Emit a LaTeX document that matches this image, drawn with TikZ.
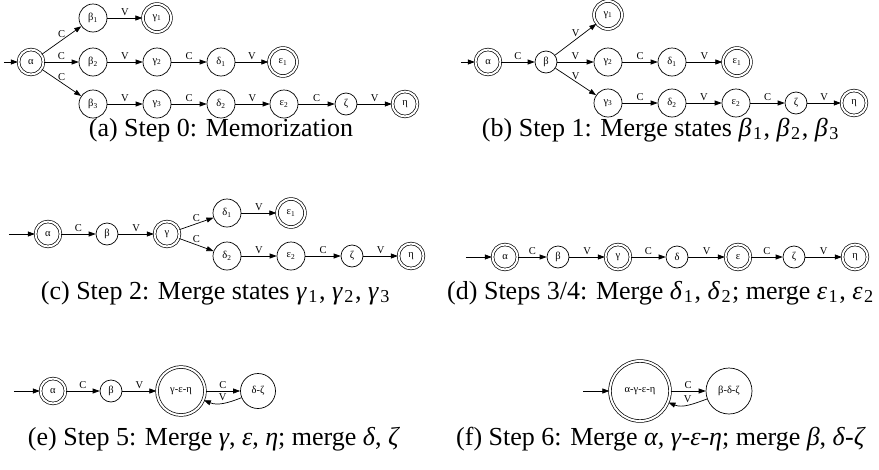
\documentclass[tikz,border=0pt]{standalone}
\usepackage{fontspec}
\setmainfont{Liberation Serif}
\usetikzlibrary{arrows.meta, automata, positioning}
\newcommand*{\statefont}{\fontsize{10.5}{12}\selectfont}
\newcommand*{\capfont}{\fontsize{26}{30}\selectfont}
\newcommand*{\gsub}[2]{\textit{#1}\kern0.06em\textsubscript{#2}\kern0.04em}

\begin{document}
\begin{tikzpicture}[x=1pt,y=-1pt,on grid,line width=0.7pt,>={Triangle[length=7pt,width=5pt]},
    every state/.style={draw,minimum size=22pt,inner sep=0pt,font=\statefont},
    accepting/.append style={minimum size=25pt,double distance=2pt},
    wide/.style={minimum size=28pt},
    initial text=,initial distance=26pt,
    lbl/.style={above=1pt,inner sep=1pt,font=\statefont},
    caption/.style={anchor=base,font=\capfont}]
  \useasboundingbox (0,0) rectangle (879,469);

  % (a) memorization
  \node[state, initial, accepting, initial distance=14pt] (a_al) at (31,62) {α};
  \node[state, wide] (a_be2) [right=62pt of a_al] {β\textsubscript{2}};
  \node[state, wide] (a_be1) [above=44pt of a_be2] {β\textsubscript{1}};
  \node[state, wide] (a_be3) [below=42pt of a_be2] {β\textsubscript{3}};
  \node[state, accepting, wide] (a_ga1) [right=64pt of a_be1] {γ\textsubscript{1}};
  \node[state, wide] (a_ga2) [right=64pt of a_be2] {γ\textsubscript{2}};
  \node[state, wide] (a_de1) [right=64pt of a_ga2] {δ\textsubscript{1}};
  \node[state, accepting, wide] (a_ep1) [right=62pt of a_de1] {ε\textsubscript{1}};
  \node[state, wide] (a_ga3) [right=64pt of a_be3] {γ\textsubscript{3}};
  \node[state, wide] (a_de2) [right=64pt of a_ga3] {δ\textsubscript{2}};
  \node[state, wide] (a_ep2) [right=63pt of a_de2] {ε\textsubscript{2}};
  \node[state] (a_ze) [right=62pt of a_ep2] {ζ};
  \node[state, accepting] (a_et) [right=59pt of a_ze] {η};
  \path[->]
    (a_al) edge node[lbl] {C} (a_be1)
           edge node[lbl] {C} (a_be2)
           edge node[lbl] {C} (a_be3)
    (a_be1) edge node[lbl] {V} (a_ga1)
    (a_be2) edge node[lbl] {V} (a_ga2)
    (a_ga2) edge node[lbl] {C} (a_de1)
    (a_de1) edge node[lbl] {V} (a_ep1)
    (a_be3) edge node[lbl] {V} (a_ga3)
    (a_ga3) edge node[lbl] {C} (a_de2)
    (a_de2) edge node[lbl] {V} (a_ep2)
    (a_ep2) edge node[lbl] {C} (a_ze)
    (a_ze) edge node[lbl] {V} (a_et);
  \node[caption] (cap_a) at (221,136) {(a) Step 0: Memorization};

  % (b) merge beta
  \node[state, initial, accepting, initial distance=14pt] (b_al) at (488,62) {α};
  \node[state] (b_be) [right=58pt of b_al] {β};
  \node[state, wide] (b_ga2) [right=62pt of b_be] {γ\textsubscript{2}};
  \node[state, accepting, wide] (b_ga1) [above=47pt of b_ga2] {γ\textsubscript{1}};
  \node[state, wide] (b_ga3) [below=41pt of b_ga2] {γ\textsubscript{3}};
  \node[state, wide] (b_de1) [right=64pt of b_ga2] {δ\textsubscript{1}};
  \node[state, accepting, wide] (b_ep1) [right=65pt of b_de1] {ε\textsubscript{1}};
  \node[state, wide] (b_de2) [right=64pt of b_ga3] {δ\textsubscript{2}};
  \node[state, wide] (b_ep2) [right=64pt of b_de2] {ε\textsubscript{2}};
  \node[state] (b_ze) [right=60pt of b_ep2] {ζ};
  \node[state, accepting] (b_et) [right=58pt of b_ze] {η};
  \path[->]
    (b_al) edge node[lbl] {C} (b_be)
    (b_be) edge node[lbl] {V} (b_ga1)
           edge node[lbl] {V} (b_ga2)
           edge node[lbl] {V} (b_ga3)
    (b_ga2) edge node[lbl] {C} (b_de1)
    (b_de1) edge node[lbl] {V} (b_ep1)
    (b_ga3) edge node[lbl] {C} (b_de2)
    (b_de2) edge node[lbl] {V} (b_ep2)
    (b_ep2) edge node[lbl] {C} (b_ze)
    (b_ze) edge node[lbl] {V} (b_et);
  \node[caption] (cap_b) at (661,136) {(b) Step 1: Merge states \gsub{β}{1}, \gsub{β}{2}, \gsub{β}{3}};

  % (c) merge gamma
  \node[state, initial, accepting] (c_al) at (48,234) {α};
  \node[state] (c_be) [right=59pt of c_al] {β};
  \node[state, accepting] (c_ga) [right=60pt of c_be] {γ};
  \node[state, wide] (c_de1) [above right=21pt and 60pt of c_ga] {δ\textsubscript{1}};
  \node[state, accepting, wide] (c_ep1) [right=64pt of c_de1] {ε\textsubscript{1}};
  \node[state, wide] (c_de2) [below right=22pt and 60pt of c_ga] {δ\textsubscript{2}};
  \node[state, wide] (c_ep2) [right=64pt of c_de2] {ε\textsubscript{2}};
  \node[state] (c_ze) [right=61pt of c_ep2] {ζ};
  \node[state, accepting] (c_et) [right=59pt of c_ze] {η};
  \path[->]
    (c_al) edge node[lbl] {C} (c_be)
    (c_be) edge node[lbl] {V} (c_ga)
    (c_ga) edge node[lbl] {C} (c_de1)
           edge node[lbl] {C} (c_de2)
    (c_de1) edge node[lbl] {V} (c_ep1)
    (c_de2) edge node[lbl] {V} (c_ep2)
    (c_ep2) edge node[lbl] {C} (c_ze)
    (c_ze) edge node[lbl] {V} (c_et);
  \node[caption] (cap_c) at (216,299) {(c) Step 2: Merge states \gsub{γ}{1}, \gsub{γ}{2}, \gsub{γ}{3}};

  % (d) merge delta, epsilon
  \node[state, initial, accepting] (d_al) at (505,257) {α};
  \node[state] (d_be) [right=53pt of d_al] {β};
  \node[state, accepting] (d_ga) [right=60pt of d_be] {γ};
  \node[state] (d_de) [right=59pt of d_ga] {δ};
  \node[state, accepting] (d_ep) [right=61pt of d_de] {ε};
  \node[state] (d_ze) [right=56pt of d_ep] {ζ};
  \node[state, accepting] (d_et) [right=61pt of d_ze] {η};
  \path[->]
    (d_al) edge node[lbl] {C} (d_be)
    (d_be) edge node[lbl] {V} (d_ga)
    (d_ga) edge node[lbl] {C} (d_de)
    (d_de) edge node[lbl] {V} (d_ep)
    (d_ep) edge node[lbl] {C} (d_ze)
    (d_ze) edge node[lbl] {V} (d_et);
  \node[caption] (cap_d) at (661,299) {(d) Steps 3/4: Merge \gsub{δ}{1}, \gsub{δ}{2}; merge \gsub{ε}{1}, \gsub{ε}{2}};

  % (e) merge gamma-epsilon-eta, delta-zeta
  \node[state, initial, accepting] (e_al) at (53,391) {α};
  \node[state] (e_be) [right=58pt of e_al] {β};
  \node[state, accepting, minimum size=48pt] (e_gen) [right=70pt of e_be] {γ-ε-η};
  \node[state, minimum size=35pt] (e_dz) [right=77pt of e_gen] {δ-ζ};
  \path[->]
    (e_al) edge node[lbl] {C} (e_be)
    (e_be) edge node[lbl] {V} (e_gen)
    (e_gen) edge node[lbl] {C} (e_dz)
    (e_dz) edge[out=202, in=-22] node[lbl] {V} (e_gen);
  \node[caption] (cap_e) at (214,445) {(e) Step 5: Merge \textit{γ}, \textit{ε}, \textit{η}; merge \textit{δ}, \textit{ζ}};

  % (f) merge alpha, beta
  \node[state, initial, accepting, minimum size=60pt] (f_agen) at (640,391) {α-γ-ε-η};
  \node[state, minimum size=46pt] (f_bdz) [right=89pt of f_agen] {β-δ-ζ};
  \path[->]
    (f_agen) edge node[lbl] {C} (f_bdz)
    (f_bdz) edge[out=200, in=-22] node[lbl] {V} (f_agen);
  \node[caption] (cap_f) at (661,445) {(f) Step 6: Merge \textit{α}, \textit{γ}-\textit{ε}-\textit{η}; merge \textit{β}, \textit{δ}-\textit{ζ}};
\end{tikzpicture}
\end{document}
